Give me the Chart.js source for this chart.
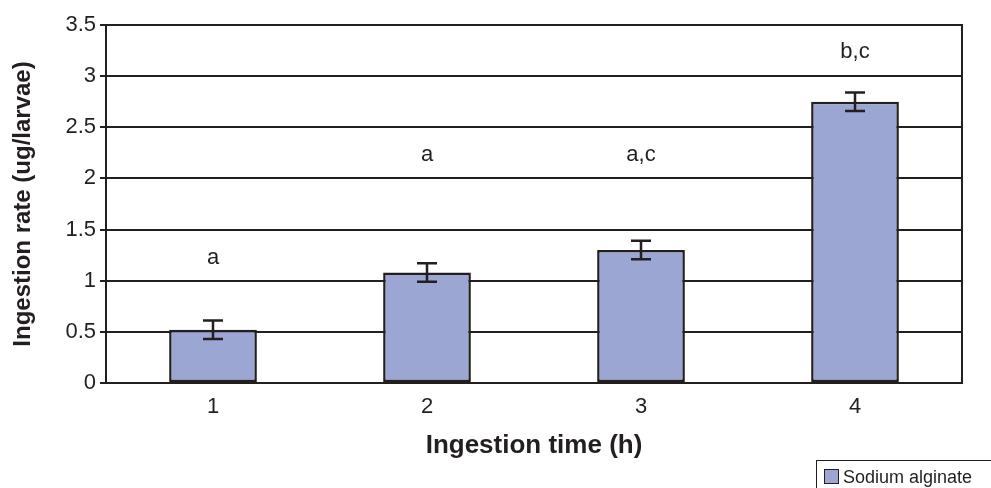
<!DOCTYPE html>
<html>
<head>
<meta charset="utf-8">
<script src="https://cdn.jsdelivr.net/npm/chart.js@4"></script>
<style>
  html, body { margin: 0; padding: 0; background: #fff; }
  canvas { display: block; }
</style>
</head>
<body>
<canvas id="chart" width="991" height="488"></canvas>
<script>
'use strict';

// chart values
const times = ['1', '2', '3', '4'];
const rates = [0.52, 1.08, 1.30, 2.75];
const errors = [0.09, 0.09, 0.09, 0.09];
const letters = ['a', 'a', 'a,c', 'b,c'];
const letterLevels = [1.22, 2.23, 2.23, 3.24];
const seriesName = 'Sodium alginate';

const ink = '#231f20';
const barFill = '#9ba6d3';
const fontFamily = '"Liberation Sans", Arial, sans-serif';

// box round the plot, error bars and the letters over the bars
let markPlugin = {
  id: 'marks',
  beforeDatasetsDraw: function(chart) {
    let ctx = chart.ctx;
    let area = chart.chartArea;
    ctx.save();
    ctx.strokeStyle = ink;
    ctx.lineWidth = 2;
    ctx.strokeRect(area.left, area.top, area.right - area.left, area.bottom - area.top);
    ctx.restore();
  },
  afterDatasetsDraw: function(chart) {
    let ctx = chart.ctx;
    let yScale = chart.scales.y;
    let meta = chart.getDatasetMeta(0);

    ctx.save();
    ctx.strokeStyle = ink;
    ctx.lineWidth = 2.5;
    for(let i = 0; i < rates.length; i++) {
      let x = meta.data[i].x;
      let hi = yScale.getPixelForValue(rates[i] + errors[i]);
      let lo = yScale.getPixelForValue(rates[i] - errors[i]);
      ctx.beginPath();
      ctx.moveTo(x, hi);
      ctx.lineTo(x, lo);
      ctx.moveTo(x - 10, hi);
      ctx.lineTo(x + 10, hi);
      ctx.moveTo(x - 10, lo);
      ctx.lineTo(x + 10, lo);
      ctx.stroke();
    }

    ctx.fillStyle = ink;
    ctx.font = '22px ' + fontFamily;
    ctx.textAlign = 'center';
    ctx.textBaseline = 'middle';
    for(let i = 0; i < letters.length; i++) {
      let x = meta.data[i].x;
      ctx.fillText(letters[i], x, yScale.getPixelForValue(letterLevels[i]));
    }
    ctx.restore();
  },
  afterDraw: function(chart) {
    // legend box in the lower right corner
    let ctx = chart.ctx;
    ctx.save();
    ctx.strokeStyle = ink;
    ctx.lineWidth = 1;
    ctx.strokeRect(816.5, 460.5, 180, 40);
    ctx.fillStyle = barFill;
    ctx.fillRect(824, 469, 14, 14);
    ctx.strokeRect(824.5, 469.5, 14, 14);
    ctx.fillStyle = ink;
    ctx.font = '18px ' + fontFamily;
    ctx.textAlign = 'left';
    ctx.textBaseline = 'alphabetic';
    ctx.fillText(seriesName, 843, 483);
    ctx.restore();
  }
};

let myChart = new Chart(document.getElementById('chart'), {
  type: 'bar',
  data: {
    labels: times,
    datasets: [
      {
        label: seriesName,
        data: rates,
        backgroundColor: barFill,
        borderColor: ink,
        borderWidth: 2.5,
        borderSkipped: false,
        categoryPercentage: 1,
        barPercentage: 0.41
      }
    ]
  },
  options: {
    responsive: false,
    devicePixelRatio: 1,
    animation: false,
    layout: {
      padding: { top: 25, right: 29, left: 0, bottom: 0 }
    },
    plugins: {
      legend: { display: false },
      tooltip: { enabled: false }
    },
    scales: {
      x: {
        grid: { display: false, drawTicks: false },
        border: { display: true, color: ink, width: 2 },
        ticks: {
          color: ink,
          padding: 11,
          font: { family: fontFamily, size: 22 }
        },
        title: {
          display: true,
          text: 'Ingestion time (h)',
          color: ink,
          font: { family: fontFamily, size: 26, weight: 'bold' },
          padding: { top: 0, bottom: 27 }
        },
        afterFit: function(scale) {
          scale.height = 105;
        }
      },
      y: {
        min: 0,
        max: 3.5,
        ticks: {
          stepSize: 0.5,
          color: ink,
          padding: 4,
          font: { family: fontFamily, size: 22 },
          callback: function(value) {
            return String(value);
          }
        },
        grid: {
          color: ink,
          lineWidth: 2,
          tickLength: 6,
          drawTicks: true
        },
        border: { display: true, color: ink, width: 2 },
        title: {
          display: true,
          text: 'Ingestion rate (ug/larvae)',
          color: ink,
          font: { family: fontFamily, size: 24, weight: 'bold' },
          padding: { top: 9, bottom: 0 }
        },
        afterFit: function(scale) {
          scale.width = 106;
        }
      }
    }
  },
  plugins: [markPlugin]
});
</script>
</body>
</html>
